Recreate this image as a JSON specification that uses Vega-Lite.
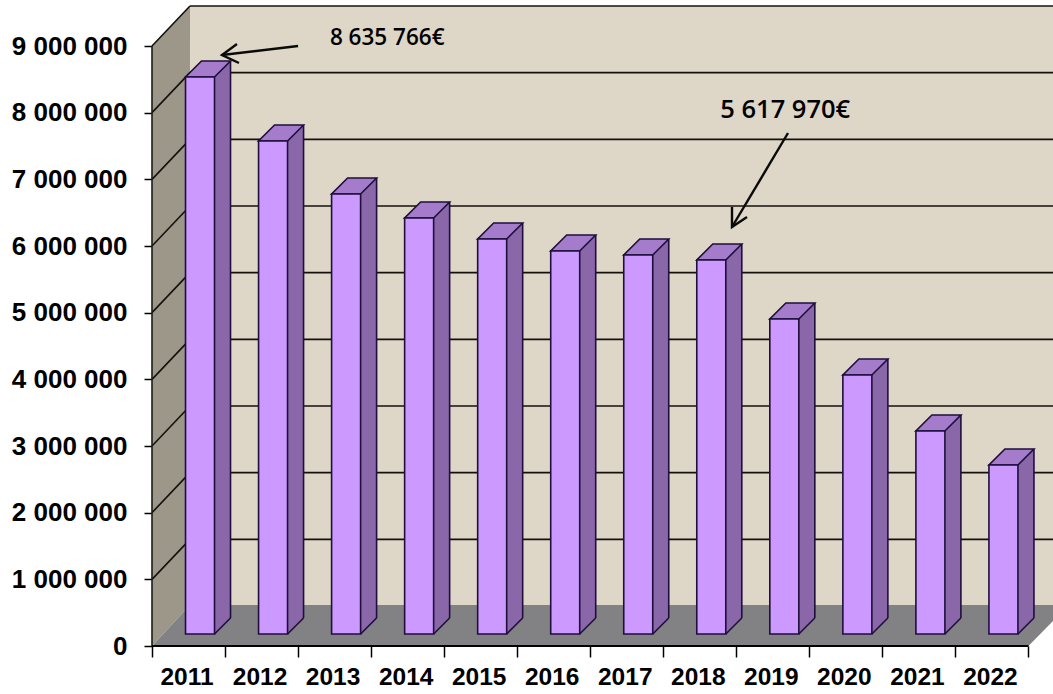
{
"$schema":"https://vega.github.io/schema/vega-lite/v6.json",
"width":901,"height":640,
"autosize":"none",
"padding":{"left":152,"top":6,"right":0,"bottom":48},
"background":"white",
"config":{"view":{"stroke":null}},
"datasets":{
"bars":[{"year":2011,"value":8355000},{"year":2012,"value":7395000},{"year":2013,"value":6600000},{"year":2014,"value":6240000},{"year":2015,"value":5925000},{"year":2016,"value":5745000},{"year":2017,"value":5685000},{"year":2018,"value":5610000},{"year":2019,"value":4725000},{"year":2020,"value":3885000},{"year":2021,"value":3045000},{"year":2022,"value":2535000}],
"levels":[{"year":2010.5,"end":2011.02,"stop":2022.84,"value":1000000},{"year":2010.5,"end":2011.02,"stop":2022.84,"value":2000000},{"year":2010.5,"end":2011.02,"stop":2022.84,"value":3000000},{"year":2010.5,"end":2011.02,"stop":2022.84,"value":4000000},{"year":2010.5,"end":2011.02,"stop":2022.84,"value":5000000},{"year":2010.5,"end":2011.02,"stop":2022.84,"value":6000000},{"year":2010.5,"end":2011.02,"stop":2022.84,"value":7000000},{"year":2010.5,"end":2011.02,"stop":2022.84,"value":8000000},{"year":2010.5,"end":2011.02,"stop":2022.84,"value":9000000}]
},
"layer":[
{"data":{"values":[{"year":2011.02,"low":615000,"high":9600000},{"year":2022.84,"low":615000,"high":9600000}]},
 "mark":{"type":"area","color":"#DED6C7","opacity":1},
 "encoding":{
  "x":{"field":"year","type":"quantitative","scale":{"domain":[2010.5,2022.836],"nice":false,"zero":false,"padding":0},"title":null,
   "axis":{"values":[2010.5,2011.5,2012.5,2013.5,2014.5,2015.5,2016.5,2017.5,2018.5,2019.5,2020.5,2021.5,2022.5],
    "labels":false,
    "domain":false,"grid":false,"tickSize":11,"tickColor":"#000000","tickWidth":1.5}},
  "y":{"field":"low","type":"quantitative","scale":{"domain":[0,9600000],"nice":false,"zero":false},"title":null,
   "axis":{"values":[0,1000000,2000000,3000000,4000000,5000000,6000000,7000000,8000000,9000000],
    "labelExpr":"replace(format(datum.value,','),regexp(',','g'),' ')",
    "labelFont":"Liberation Sans","labelFontWeight":"bold","labelFontSize":26,"labelColor":"#000000","labelPadding":17,
    "domain":false,"grid":false,"tickSize":8,"tickColor":"#000000","tickWidth":1.5}},
  "y2":{"field":"high"}}},
{"data":{"values":[{"year":2010.5,"low":0,"high":9000000},{"year":2011.02,"low":615000,"high":9600000}]},
 "mark":{"type":"area","color":"#9D978A","opacity":1},
 "encoding":{"x":{"field":"year","type":"quantitative"},"y":{"field":"low","type":"quantitative"},"y2":{"field":"high"}}},
{"data":{"values":[{"year":2010.5,"low":0,"high":0},{"year":2011.02,"low":0,"high":615000},{"year":2022.5,"low":0,"high":615000},{"year":2022.836,"low":375000,"high":615000}]},
 "mark":{"type":"area","color":"#828285","opacity":1},
 "encoding":{"x":{"field":"year","type":"quantitative"},"y":{"field":"low","type":"quantitative"},"y2":{"field":"high"}}},
{"data":{"name":"levels"},
 "mark":{"type":"rule","color":"#14100c","strokeWidth":1.6,"yOffset":-40,"y2Offset":-40},
 "encoding":{"x":{"field":"end","type":"quantitative"},"x2":{"field":"stop"},"y":{"field":"value","type":"quantitative"},"y2":{"field":"value"}}},
{"data":{"name":"levels"},
 "mark":{"type":"rule","color":"#14100c","strokeWidth":1.6,"y2Offset":-40},
 "encoding":{"x":{"field":"year","type":"quantitative"},"x2":{"field":"end"},"y":{"field":"value","type":"quantitative"},"y2":{"field":"value"}}},
{"data":{"values":[{"year":2010.5,"low":0,"high":9000000}]},
 "mark":{"type":"rule","color":"#1c1c14","strokeWidth":1.6},
 "encoding":{"x":{"field":"year","type":"quantitative"},"y":{"field":"low","type":"quantitative"},"y2":{"field":"high"}}},
{"data":{"values":[{"year":2010.5,"end":2022.5,"value":0}]},
 "mark":{"type":"rule","color":"#000000","strokeWidth":2.2},
 "encoding":{"x":{"field":"year","type":"quantitative"},"x2":{"field":"end"},"y":{"field":"value","type":"quantitative"}}},
{"data":{"name":"bars"},
 "mark":{"type":"text","font":"Liberation Sans","fontWeight":"bold","fontSize":24.5,"color":"#000000","align":"center","baseline":"middle","dx":-1.5,"dy":32},
 "encoding":{"x":{"field":"year","type":"quantitative"},"y":{"datum":0,"type":"quantitative"},"text":{"field":"year","type":"ordinal"}}},
{"data":{"name":"bars"},
 "mark":{"type":"bar","orient":"vertical","size":16,"xOffset":34,"yOffset":-12,"y2Offset":-28,"color":"#8967A9","stroke":null},
 "encoding":{"x":{"field":"year","type":"quantitative"},"y":{"field":"value","type":"quantitative"},"y2":{"datum":0}}},
{"data":{"name":"bars"},
 "mark":{"type":"point","filled":true,"size":4,"opacity":1,"xOffset":11.5,"yOffset":-12,"color":"#8967A9","stroke":null,"shape":"M14.5,0 L30.5,-16 L30.5,0 Z"},
 "encoding":{"x":{"field":"year","type":"quantitative"},"y":{"field":"value","type":"quantitative"}}},
{"data":{"name":"bars"},
 "mark":{"type":"point","filled":true,"size":4,"opacity":1,"xOffset":11.5,"yOffset":-12,"color":"#A47CCB","stroke":"#1E0F3C","strokeWidth":1.6,"shape":"M-14.5,0 L14.5,0 L30.5,-16 L1.5,-16 Z"},
 "encoding":{"x":{"field":"year","type":"quantitative"},"y":{"field":"value","type":"quantitative"}}},
{"data":{"name":"bars"},
 "mark":{"type":"rule","xOffset":42,"yOffset":-28,"y2Offset":-28,"color":"#1E0F3C","strokeWidth":1.6},
 "encoding":{"x":{"field":"year","type":"quantitative"},"y":{"field":"value","type":"quantitative"},"y2":{"datum":0}}},
{"data":{"name":"bars"},
 "mark":{"type":"point","filled":true,"size":4,"opacity":1,"xOffset":11.5,"yOffset":-12,"color":"#8967A9","stroke":null,"shape":"M14.5,0 L30.5,-16 L14.5,-16 Z"},
 "encoding":{"x":{"field":"year","type":"quantitative"},"y":{"datum":0,"type":"quantitative"}}},
{"data":{"name":"bars"},
 "mark":{"type":"point","filled":false,"size":4,"opacity":1,"xOffset":11.5,"yOffset":-12,"color":"#1E0F3C","strokeWidth":1.6,"shape":"M14.5,0 L30.5,-16"},
 "encoding":{"x":{"field":"year","type":"quantitative"},"y":{"datum":0,"type":"quantitative"}}},
{"data":{"name":"bars"},
 "mark":{"type":"bar","orient":"vertical","size":29,"xOffset":11.5,"yOffset":-12,"y2Offset":-12,"color":"#CC99FF","stroke":"#1E0F3C","strokeWidth":1.6},
 "encoding":{"x":{"field":"year","type":"quantitative"},"y":{"field":"value","type":"quantitative"},"y2":{"datum":0}}},
{"data":{"values":[{"year":2012.5,"end":2011.458,"value":9000000,"stop":8865000},{"year":2019.208,"end":2018.441,"value":7695000,"stop":6285000}]},
 "mark":{"type":"rule","color":"#0a0a0a","strokeWidth":2.4},
 "encoding":{"x":{"field":"year","type":"quantitative"},"x2":{"field":"end"},"y":{"field":"value","type":"quantitative"},"y2":{"field":"stop"}}},
{"data":{"values":[{"year":2011.458,"value":8865000}]},
 "mark":{"type":"point","filled":false,"size":4,"opacity":1,"color":"#0a0a0a","strokeWidth":2.4,"shape":"M15,-11 L0,0 L17,8"},
 "encoding":{"x":{"field":"year","type":"quantitative"},"y":{"field":"value","type":"quantitative"}}},
{"data":{"values":[{"year":2018.441,"value":6285000}]},
 "mark":{"type":"point","filled":false,"size":4,"opacity":1,"color":"#0a0a0a","strokeWidth":2.4,"shape":"M0,-20 L0,0 L15,-10"},
 "encoding":{"x":{"field":"year","type":"quantitative"},"y":{"field":"value","type":"quantitative"}}},
{"data":{"values":[{"year":2013.72,"value":9120000,"label":"8 635 766€"}]},
 "mark":{"type":"text","font":"Open Sans","fontSize":22.5,"fontWeight":600,"color":"#000000","align":"center","baseline":"middle"},
 "encoding":{"x":{"field":"year","type":"quantitative"},"y":{"field":"value","type":"quantitative"},"text":{"field":"label"}}},
{"data":{"values":[{"year":2019.17,"value":8040000,"label":"5 617 970€"}]},
 "mark":{"type":"text","font":"Open Sans","fontSize":25.5,"fontWeight":600,"color":"#000000","align":"center","baseline":"middle"},
 "encoding":{"x":{"field":"year","type":"quantitative"},"y":{"field":"value","type":"quantitative"},"text":{"field":"label"}}}
]
}
